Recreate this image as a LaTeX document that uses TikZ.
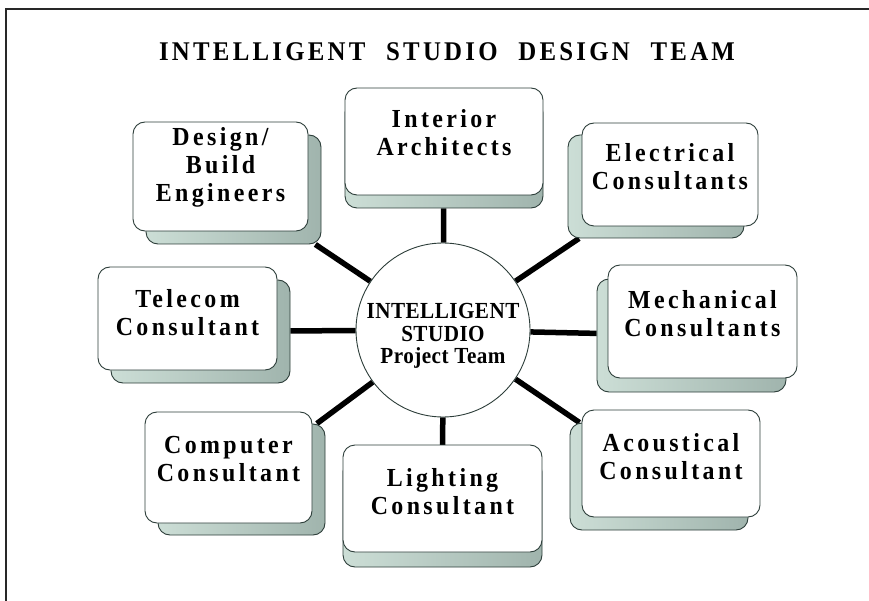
\documentclass[tikz,border=0pt]{standalone}
\usepackage{fontspec}
\setmainfont{Liberation Serif}
\newfontfamily\titlefont[LetterSpace=12,FakeStretch=0.92,WordSpace=2.2]{Liberation Serif}
\newfontfamily\boxfont[LetterSpace=13,FakeStretch=0.92]{Liberation Serif}
\newfontfamily\hubfont[LetterSpace=2,FakeStretch=0.92]{Liberation Serif}
\pgfdeclarelayer{background}
\pgfsetlayers{background,main}
\definecolor{edgecol}{RGB}{45,62,58}
\definecolor{baseL}{RGB}{204,222,214}
\definecolor{baseR}{RGB}{160,180,173}
\definecolor{framecol}{RGB}{40,40,40}
\tikzset{
  frontbox/.style={draw=edgecol, line width=0.9pt, fill=white, rounded corners=12pt,
    align=center, inner sep=0pt, font=\boxfont\bfseries\fontsize{26}{28}\selectfont},
  backbox/.style={draw=edgecol, line width=0.9pt, left color=baseL, right color=baseR,
    rounded corners=12pt, inner sep=0pt},
  hubnode/.style={circle, draw=edgecol, line width=0.9pt, fill=white, minimum size=174pt,
    inner sep=0pt, align=center, text height=72pt, text depth=5pt,
    font=\hubfont\bfseries\fontsize{23}{22.5}\selectfont},
  titlenode/.style={anchor=base, inner sep=0pt, font=\titlefont\bfseries\fontsize{27}{30}\selectfont},
  conn/.style={line width=5.5pt, black},
  framestyle/.style={line width=1.5pt, framecol},
}
\begin{document}
\begin{tikzpicture}[x=1pt,y=-1pt]
\useasboundingbox (0,0) rectangle (869,601);
\draw[framestyle] (869,9) -- (6,9) -- (6,601);
\node[titlenode] (title) at (447,61) {INTELLIGENT STUDIO DESIGN TEAM};

% hub
\node[hubnode] (hub) at (443,330) {INTELLIGENT\\STUDIO\\Project Team};

% Interior Architects
\node[backbox, minimum width=198pt, minimum height=107pt] (intb) at (444,154.5) {};
\node[frontbox, minimum width=198pt, minimum height=107pt, text depth=18pt] (int) at (444,141.5) {Interior\\Architects};

% Design/Build Engineers
\node[backbox, minimum width=175pt, minimum height=109pt] (desb) at (233.5,189.5) {};
\node[frontbox, minimum width=175pt, minimum height=109pt, text depth=25pt] (des) at (220.5,176.5) {Design/\\Build\\Engineers};

% Electrical Consultants
\node[backbox, minimum width=176pt, minimum height=103pt] (eleb) at (656,186.5) {};
\node[frontbox, minimum width=176pt, minimum height=103pt, text depth=16pt] (ele) at (670,174.5) {Electrical\\Consultants};

% Telecom Consultant
\node[backbox, minimum width=179pt, minimum height=103pt] (telb) at (200.5,331.5) {};
\node[frontbox, minimum width=179pt, minimum height=103pt, text depth=13pt] (tel) at (187.5,318.5) {Telecom\\Consultant};

% Mechanical Consultants
\node[backbox, minimum width=189pt, minimum height=113pt] (mecb) at (691.5,335.5) {};
\node[frontbox, minimum width=189pt, minimum height=113pt, text depth=17pt] (mec) at (702.5,321.5) {Mechanical\\Consultants};

% Computer Consultant
\node[backbox, minimum width=167pt, minimum height=111pt] (comb) at (241.5,479.5) {};
\node[frontbox, minimum width=167pt, minimum height=111pt, text depth=18pt] (com) at (228.5,467.5) {Computer\\Consultant};

% Lighting Consultant
\node[backbox, minimum width=199pt, minimum height=107pt] (ligb) at (442.5,513.5) {};
\node[frontbox, minimum width=199pt, minimum height=107pt, text depth=15pt] (lig) at (442.5,498.5) {Lighting\\Consultant};

% Acoustical Consultant
\node[backbox, minimum width=178pt, minimum height=107pt] (acob) at (659,476.5) {};
\node[frontbox, minimum width=178pt, minimum height=107pt, text depth=15pt] (aco) at (671,463.5) {Acoustical\\Consultant};

\begin{pgfonlayer}{background}
\draw[conn] (hub) -- (intb);
\draw[conn] (hub) -- (desb);
\draw[conn] (hub) -- (eleb);
\draw[conn] (hub) -- (telb);
\draw[conn] (hub) -- (mecb);
\draw[conn] (hub) -- (comb);
\draw[conn] (hub) -- (ligb);
\draw[conn] (hub) -- (acob);
\end{pgfonlayer}
\end{tikzpicture}
\end{document}
